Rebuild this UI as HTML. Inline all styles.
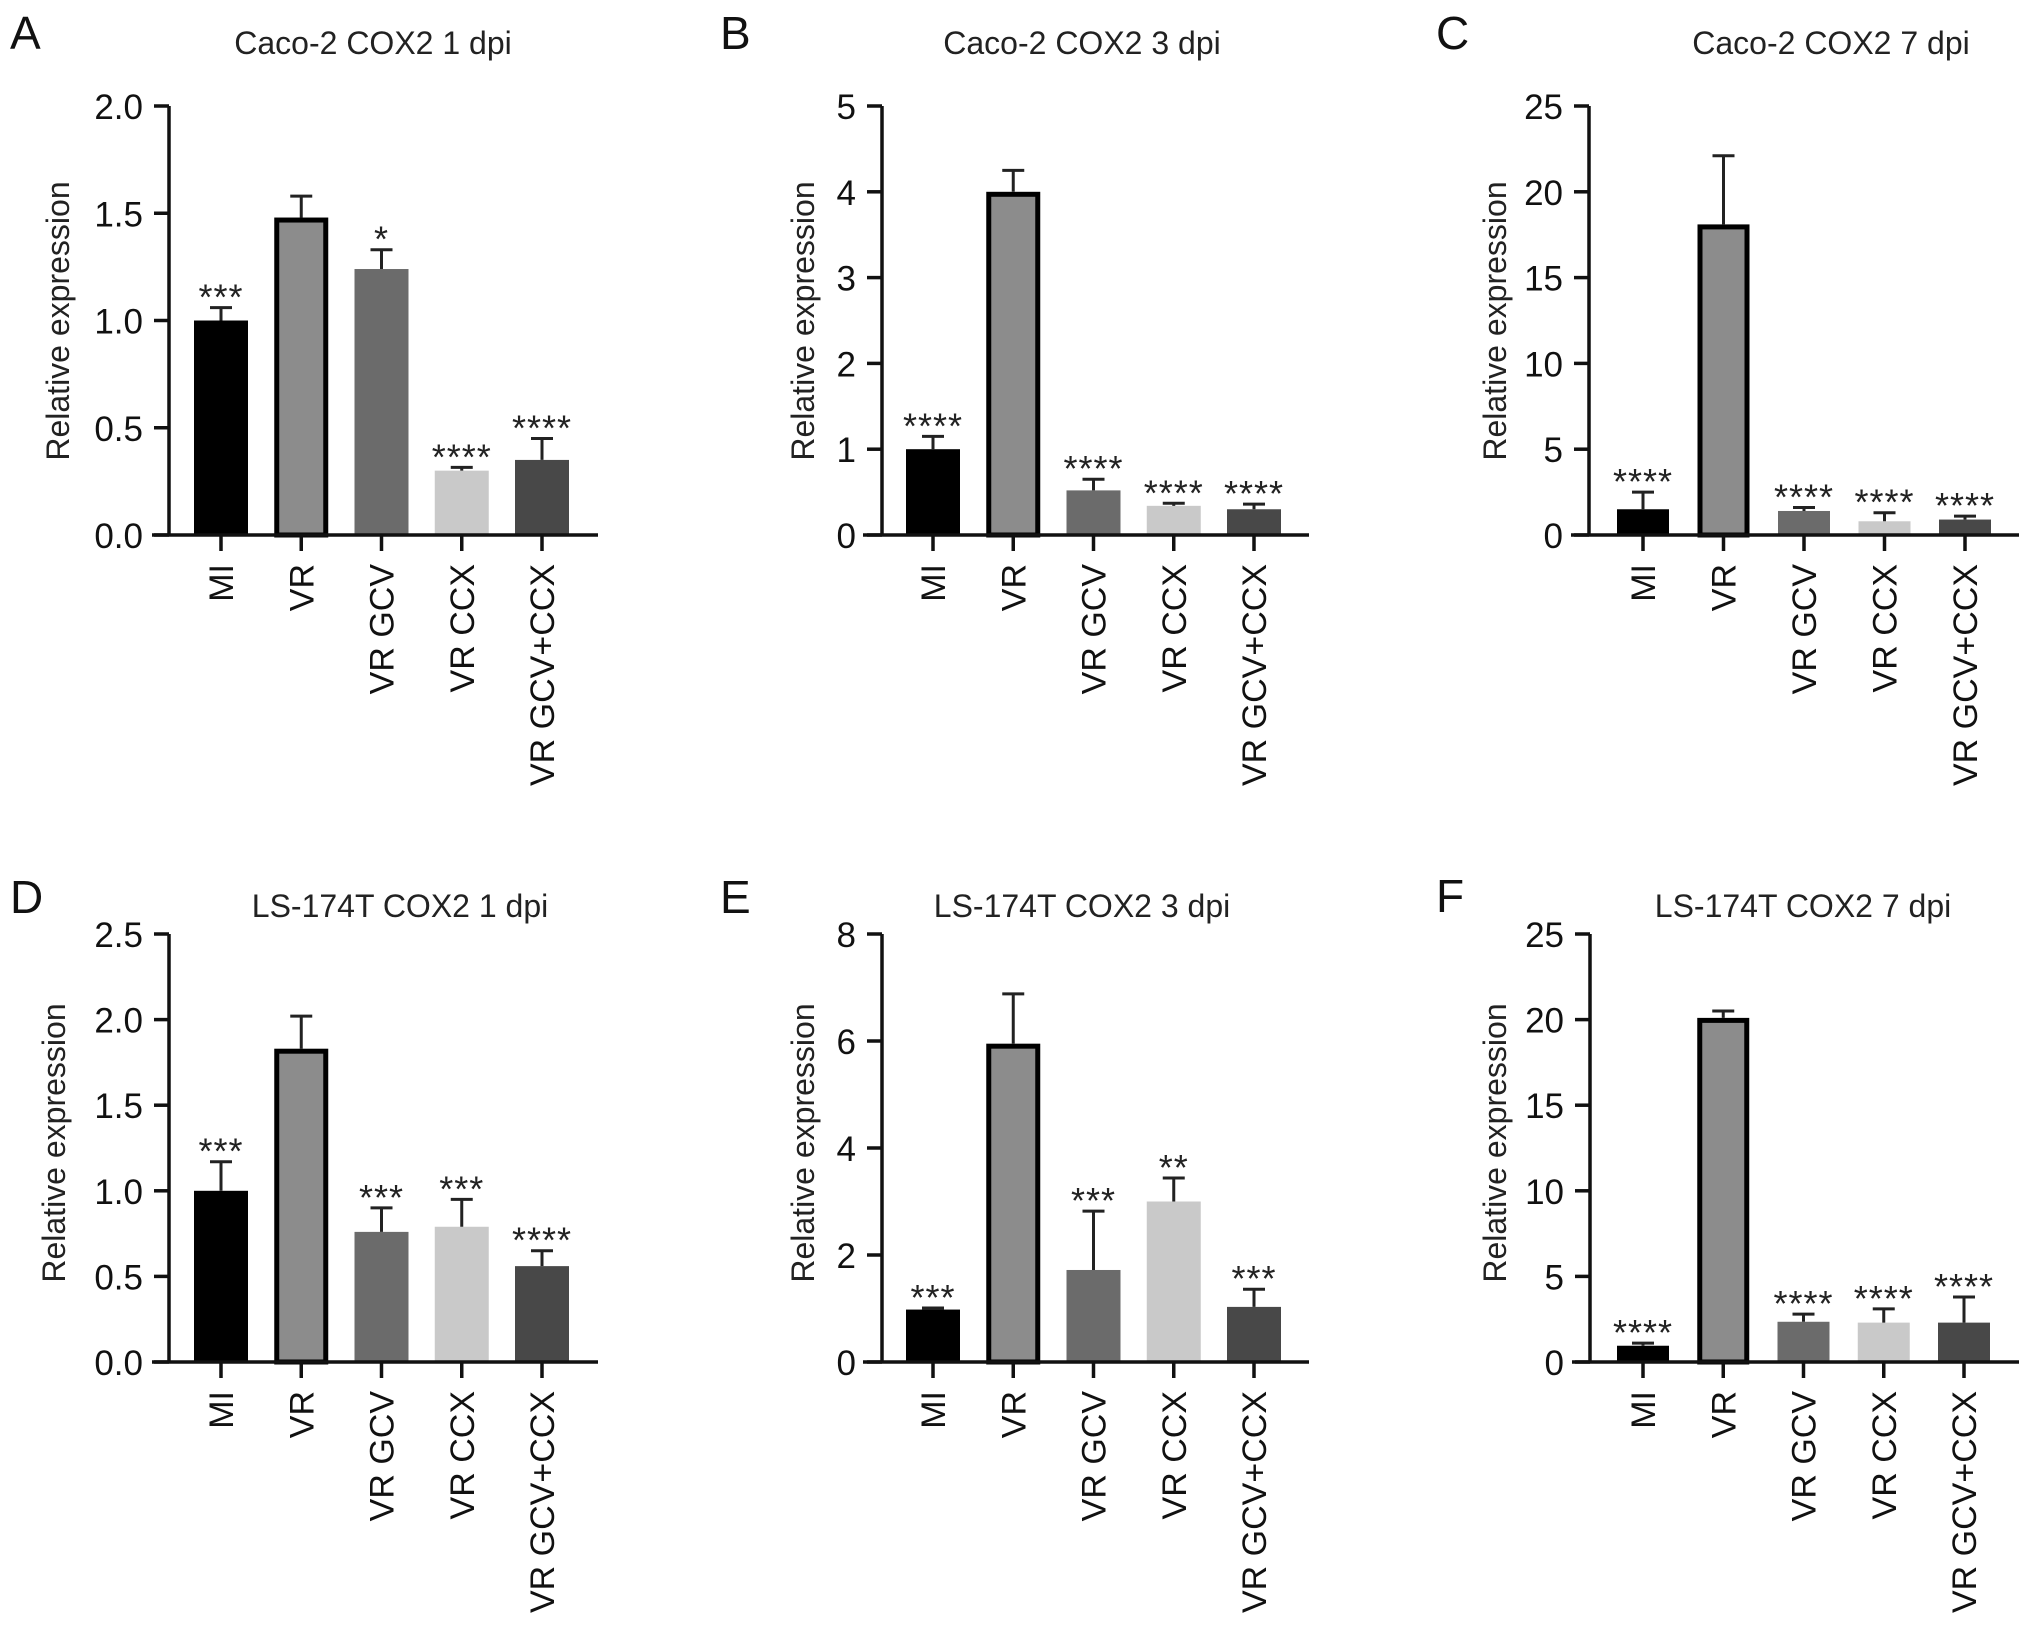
<!DOCTYPE html>
<html><head><meta charset="utf-8">
<style>
html,body{margin:0;padding:0;background:#fff;}
svg{display:block;font-family:"Liberation Sans",Arial,sans-serif;}
</style></head>
<body>
<svg id="fig" width="2032" height="1629" viewBox="0 0 2032 1629" xmlns="http://www.w3.org/2000/svg"></svg>
<script>
const categories = ["MI","VR","VR GCV","VR CCX","VR GCV+CCX"];

const valuesA = [1.0, 1.48, 1.24, 0.30, 0.35];
const errorsA = [0.06, 0.10, 0.09, 0.015, 0.10];
const sigA = ["***","","*","****","****"];
const ticksA = [0, 0.5, 1.0, 1.5, 2.0];
const tickLabelsA = ["0.0","0.5","1.0","1.5","2.0"];

const valuesB = [1.0, 4.0, 0.52, 0.34, 0.30];
const errorsB = [0.15, 0.25, 0.13, 0.03, 0.06];
const sigB = ["****","","****","****","****"];
const ticksB = [0,1,2,3,4,5];
const tickLabelsB = ["0","1","2","3","4","5"];

const valuesC = [1.5, 18.1, 1.4, 0.8, 0.9];
const errorsC = [1.0, 4.0, 0.2, 0.5, 0.2];
const sigC = ["****","","****","****","****"];
const ticksC = [0,5,10,15,20,25];
const tickLabelsC = ["0","5","10","15","20","25"];

const valuesD = [1.0, 1.83, 0.76, 0.79, 0.56];
const errorsD = [0.17, 0.19, 0.14, 0.16, 0.09];
const sigD = ["***","","***","***","****"];
const ticksD = [0,0.5,1.0,1.5,2.0,2.5];
const tickLabelsD = ["0.0","0.5","1.0","1.5","2.0","2.5"];

const valuesE = [0.98, 5.95, 1.72, 3.0, 1.03];
const errorsE = [0.03, 0.93, 1.10, 0.44, 0.33];
const sigE = ["***","","***","**","***"];
const ticksE = [0,2,4,6,8];
const tickLabelsE = ["0","2","4","6","8"];

const valuesF = [0.95, 20.1, 2.35, 2.3, 2.3];
const errorsF = [0.15, 0.4, 0.45, 0.8, 1.5];
const sigF = ["****","","****","****","****"];
const ticksF = [0,5,10,15,20,25];
const tickLabelsF = ["0","5","10","15","20","25"];

const fills = ["#000000","#8c8c8c","#6b6b6b","#c9c9c9","#484848"];

const panels = [
 {key:"a",letter:"A",title:"Caco-2 COX2 1 dpi",vals:valuesA,errs:errorsA,sig:sigA,ticks:ticksA,tl:tickLabelsA,
  axis:169,x0:152,x1:598,bar0:221,step:80.25,bw:54,top:106,base:535,ytX:58,ytY:321,tX:373,tY:54,lX:10,lY:49},
 {key:"b",letter:"B",title:"Caco-2 COX2 3 dpi",vals:valuesB,errs:errorsB,sig:sigB,ticks:ticksB,tl:tickLabelsB,
  axis:882,x0:863,x1:1309,bar0:933,step:80.25,bw:54,top:106,base:535,ytX:803,ytY:321,tX:1082,tY:54,lX:720,lY:49},
 {key:"c",letter:"C",title:"Caco-2 COX2 7 dpi",vals:valuesC,errs:errorsC,sig:sigC,ticks:ticksC,tl:tickLabelsC,
  axis:1589,x0:1571,x1:2019,bar0:1643,step:80.5,bw:52,top:106,base:535,ytX:1495,ytY:321,tX:1831,tY:54,lX:1436,lY:49},
 {key:"d",letter:"D",title:"LS-174T COX2 1 dpi",vals:valuesD,errs:errorsD,sig:sigD,ticks:ticksD,tl:tickLabelsD,
  axis:169,x0:152,x1:598,bar0:221,step:80.25,bw:54,top:934,base:1362,ytX:54,ytY:1143,tX:400,tY:917,lX:10,lY:913},
 {key:"e",letter:"E",title:"LS-174T COX2 3 dpi",vals:valuesE,errs:errorsE,sig:sigE,ticks:ticksE,tl:tickLabelsE,
  axis:882,x0:863,x1:1309,bar0:933,step:80.25,bw:54,top:934,base:1362,ytX:803,ytY:1143,tX:1082,tY:917,lX:720,lY:913},
 {key:"f",letter:"F",title:"LS-174T COX2 7 dpi",vals:valuesF,errs:errorsF,sig:sigF,ticks:ticksF,tl:tickLabelsF,
  axis:1590,x0:1572,x1:2019,bar0:1643,step:80.25,bw:52,top:934,base:1362,ytX:1495,ytY:1143,tX:1803,tY:917,lX:1436,lY:912}
];

const NS = "http://www.w3.org/2000/svg";
const svg = document.getElementById("fig");
function mk(tag, attrs, parent){
  const e = document.createElementNS(NS, tag);
  for (const k in attrs) e.setAttribute(k, attrs[k]);
  (parent||svg).appendChild(e);
  return e;
}

panels.forEach(p => {
  const g = mk("g", {});
  
  
  const ymax = p.ticks[p.ticks.length-1];
  const y = v => p.base - (v / ymax) * (p.base - p.top);
  const x = i => p.bar0 + i * p.step;

  const letter = mk("text", {x:p.lX, y:p.lY, "font-size":46, fill:"#111"}, g);
  letter.textContent = p.letter;
  
  

  const title = mk("text", {x:p.tX, y:p.tY, "font-size":32, "text-anchor":"middle", fill:"#222"}, g);
  title.textContent = p.title;
  
  

  const yt = mk("text", {x:0, y:0, "font-size":32, "text-anchor":"middle", fill:"#222",
    transform:`translate(${p.ytX+11},${p.ytY}) rotate(-90)`}, g);
  yt.textContent = "Relative expression";
  
  

  p.vals.forEach((v, i) => {
    const cx = x(i);
    const isVR = i === 1;
    const bar = mk("rect", {
      x: isVR ? cx - p.bw/2 + 2.5 : cx - p.bw/2,
      y: isVR ? y(v) + 2.5 : y(v),
      width: isVR ? p.bw - 5 : p.bw,
      height: isVR ? p.base - y(v) - 2.5 : p.base - y(v),
      fill: fills[i], stroke: isVR ? "#000" : "none", "stroke-width": isVR ? 5 : 0}, g);
    
    

    const top = y(v + p.errs[i]);
    const eb = mk("path", {d:`M${cx},${y(v)} V${top} M${cx-11},${top} H${cx+11}`,
      stroke:"#222", "stroke-width":3, fill:"none"}, g);
    
    

    if (p.sig[i]) {
      const s = mk("text", {x:cx, y:top + 2, "font-size":36, "text-anchor":"middle", fill:"#222", "letter-spacing":1}, g);
      s.textContent = p.sig[i];
      
      
    }

    const tk = mk("line", {x1:cx, x2:cx, y1:p.base, y2:p.base+16, stroke:"#111", "stroke-width":3.5}, g);
    
    

    const lab = mk("text", {x:0, y:0, "font-size":34, "text-anchor":"end", fill:"#111",
      transform:`translate(${cx+12},${p.base+29}) rotate(-90)`}, g);
    lab.textContent = categories[i];
    
    
  });

  const ya = mk("line", {x1:p.axis, x2:p.axis, y1:p.top, y2:p.base, stroke:"#111", "stroke-width":3.5}, g);
  
  
  const xa = mk("line", {x1:p.x0, x2:p.x1, y1:p.base, y2:p.base, stroke:"#111", "stroke-width":3.5}, g);
  
  

  p.ticks.forEach((t, j) => {
    const ty = y(t);
    const tk = mk("line", {x1:p.axis-15, x2:p.axis, y1:ty, y2:ty, stroke:"#111", "stroke-width":3.5}, g);
    
    
    const tl = mk("text", {x:p.axis-26, y:ty+13, "font-size":35, "text-anchor":"end", fill:"#111"}, g);
    tl.textContent = p.tl[j];
    
    
  });
});
</script>
</body></html>
